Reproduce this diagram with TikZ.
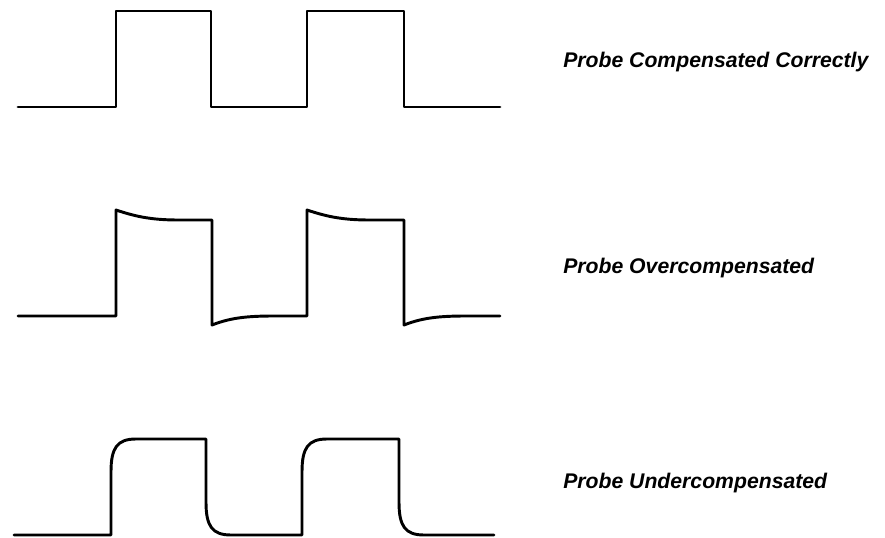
\documentclass[tikz,border=0pt]{standalone}
\usepackage{fontspec}
\setmainfont{Liberation Sans}
\usepackage{tikz}

\begin{document}
\begin{tikzpicture}[x=0.75pt,y=0.75pt,yscale=-1,xscale=1,
  wave/.style={line width=2.2pt,line join=round,line cap=round},
  probelabel/.style={anchor=base west,inner sep=0.75pt,font=\fontsize{15.9}{19}\selectfont\bfseries\itshape}]
\useasboundingbox (0,0) rectangle (885,538);

%Shape: Square wave, compensated
\draw [wave]  (18,107) -- (116,107) -- (116,11) -- (211,11) -- (211,107) -- (307,107) -- (307,11) -- (404,11) -- (404,107) -- (500,107) ;

%Shape: Square wave, overcompensated
\draw [wave]  (18,316) -- (116,316) -- (116,210) .. controls (134,216) and (150,220) .. (178,220) -- (212,220) -- (212,325) .. controls (230,318) and (246,316) .. (274,316) -- (307,316) -- (307,210) .. controls (325,216) and (341,220) .. (369,220) -- (404,220) -- (404,325) .. controls (422,318) and (438,316) .. (466,316) -- (500,316) ;

%Shape: Square wave, undercompensated
\draw [wave]  (14,535) -- (111,535) -- (111,472) .. controls (111,448) and (117,439) .. (136,439) -- (206,439) -- (206,502) .. controls (206,526) and (212,535) .. (231,535) -- (302,535) -- (302,472) .. controls (302,448) and (308,439) .. (327,439) -- (399,439) -- (399,502) .. controls (399,526) and (405,535) .. (424,535) -- (494,535) ;

% Text Node
\draw (562,68) node (lblcorrect) [probelabel] {Probe Compensated Correctly};
% Text Node
\draw (562,273) node (lblover) [probelabel] {Probe Overcompensated};
% Text Node
\draw (562,488) node (lblunder) [probelabel] {Probe Undercompensated};

\end{tikzpicture}
\end{document}
